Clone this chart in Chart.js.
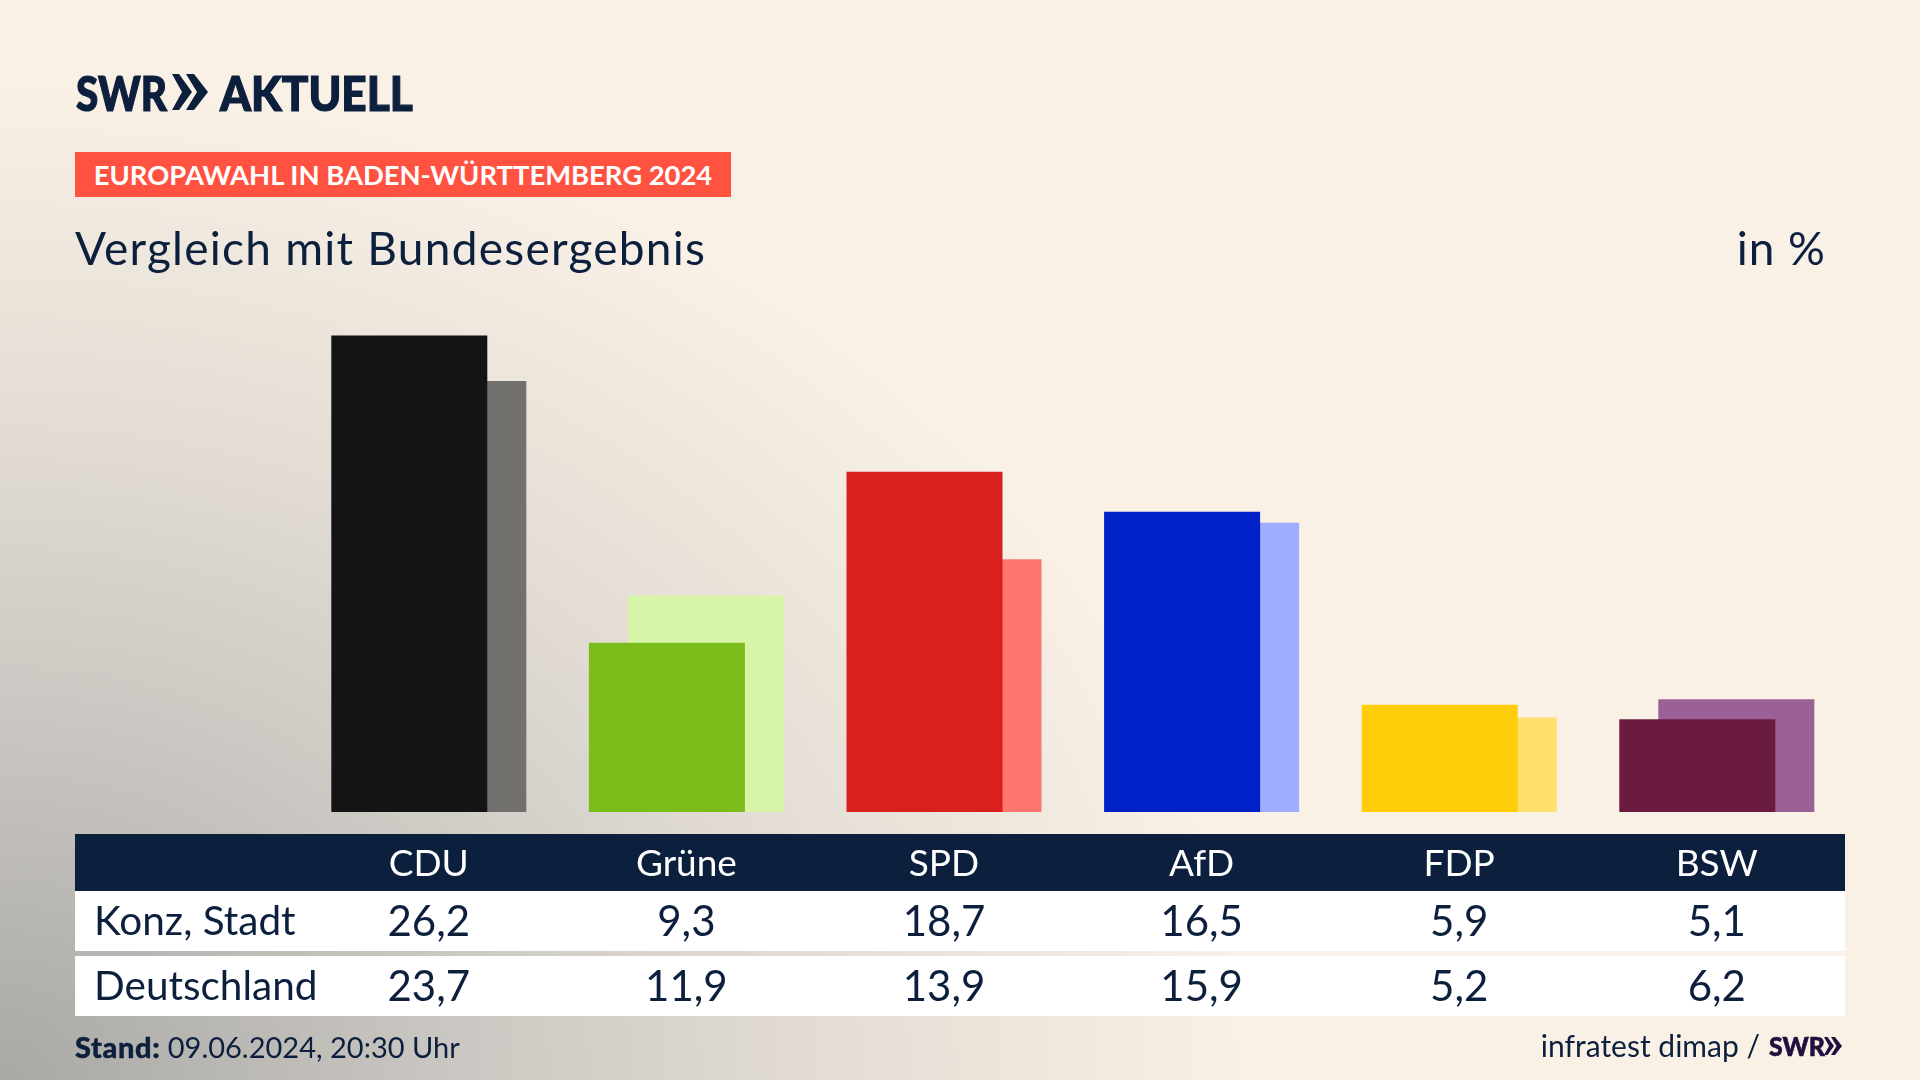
<!DOCTYPE html>
<html lang="de">
<head>
<meta charset="utf-8">
<title>Vergleich mit Bundesergebnis</title>
<script src="https://cdn.jsdelivr.net/npm/chart.js@4"></script>
<style>
  html, body { margin: 0; padding: 0; }
  body {
    width: 1920px; height: 1080px; overflow: hidden; position: relative;
    font-family: Lato, sans-serif; color: #0c1f3d;
    background:
      radial-gradient(ellipse 1250px 1000px at 0% 100%, #a9a8a5 0%, #c9c6c1 35%, #e2dcd4 65%, rgba(249,241,230,0) 100%),
      #f9f1e6;
  }
  .abs { position: absolute; white-space: nowrap; }
  #chart { position: absolute; left: 0; top: 0; }
  .logo { top: 66px; font-size: 47px; font-weight: 900; line-height: 54px; transform-origin: left center; -webkit-text-stroke: 1.2px #0c1f3d; }
  .tag { left: 75px; top: 152px; width: 656px; height: 45px; background: #ff5240; color: #fff;
         font-size: 27.4px; font-weight: 700; line-height: 46px; text-align: center; }
  .title { left: 75px; top: 220px; font-size: 46px; line-height: 56px; letter-spacing: 1.25px; }
  .unit { right: 94px; top: 220px; font-size: 46px; line-height: 56px; letter-spacing: 1px; }
  .band { left: 75px; width: 1770px; }
  .cell { font-size: 42px; line-height: 60px; transform: translateX(-50%); }
  .rowname { left: 94px; font-size: 40.5px; line-height: 60px; }
  .stand { left: 75px; top: 1029px; font-size: 29px; line-height: 36px; }
  .stand b { font-weight: 900; letter-spacing: 0.6px; -webkit-text-stroke: 0.4px #0c1f3d; }
  .source { right: 160px; top: 1027px; font-size: 30px; line-height: 36px; }
  .swr-small { left: 1769px; top: 1028px; font-size: 27px; line-height: 36px; font-weight: 900; color: #20103f;
               -webkit-text-stroke: 0.6px #20103f; transform: scaleX(0.92); transform-origin: left center; }
</style>
</head>
<body>
<div class="abs band" style="top:834px;height:57px;background:#0c1f3d"></div>
<div class="abs band" style="top:891px;height:60px;background:#fff"></div>
<div class="abs band" style="top:956px;height:60px;background:#fff"></div>
<canvas id="chart" width="1920" height="1080"></canvas>

<div class="abs logo" style="left:76px;transform:scaleX(0.86)">SWR</div>
<svg class="abs" style="left:172px;top:74px" width="36" height="36" viewBox="0 0 36 36">
  <path d="M0 0 L7 0 L20 18 L7 36 L0 36 L10 18 Z M14 0 L22 0 L36 18 L22 36 L14 36 L25 18 Z" fill="#0c1f3d"/>
</svg>
<div class="abs logo" style="left:220px;transform:scaleX(0.94)">AKTUELL</div>
<div class="abs tag">EUROPAWAHL IN BADEN-WÜRTTEMBERG 2024</div>
<div class="abs title">Vergleich mit Bundesergebnis</div>
<div class="abs unit">in %</div>
<div class="abs stand"><b>Stand:</b> 09.06.2024, 20:30 Uhr</div>
<div class="abs source">infratest dimap /</div>
<div class="abs swr-small">SWR</div>
<svg class="abs" style="left:1823px;top:1037px" width="20" height="18" viewBox="0 0 36 36">
  <path d="M0 0 L7 0 L20 18 L7 36 L0 36 L10 18 Z M14 0 L22 0 L36 18 L22 36 L14 36 L25 18 Z" fill="#20103f"/>
</svg>

<script>
const parties = ['CDU', 'Grüne', 'SPD', 'AfD', 'FDP', 'BSW'];
const konzLabel = 'Konz, Stadt';
const deutschlandLabel = 'Deutschland';
const konzValues = [26.2, 9.3, 18.7, 16.5, 5.9, 5.1];
const deutschlandValues = [23.7, 11.9, 13.9, 15.9, 5.2, 6.2];
const konzColors = ['#141414', '#7abd1a', '#d9201f', '#0020c8', '#ffcd0a', '#6b1a40'];
const deutschlandColors = ['#72716e', '#d7f5a9', '#ff7570', '#9eadff', '#ffe06b', '#9b6096'];

const formatValue = v => v.toFixed(1).replace('.', ',');

// first dataset is painted on top, so Konz sits in front of the Germany bar
const chart = new Chart(document.getElementById('chart').getContext('2d'), {
    type: 'bar',
    data: {
        labels: parties,
        datasets: [
            { label: konzLabel, data: konzValues, backgroundColor: konzColors },
            { label: deutschlandLabel, data: deutschlandValues, backgroundColor: deutschlandColors }
        ]
    },
    options: {
        responsive: false,
        animation: false,
        // two bars overlap: slots are 39px apart, each bar is 4 slots wide
        categoryPercentage: 0.3028,
        barPercentage: 4,
        layout: { padding: { left: 300, right: 74.4, top: 266.3, bottom: 0 } },
        plugins: { legend: { display: false }, tooltip: { enabled: false } },
        scales: {
            x: {
                grid: { display: false },
                border: { display: false },
                ticks: { color: '#ffffff', font: { family: 'Lato', size: 37 }, padding: 21.5, maxRotation: 0 },
                afterFit: scale => { scale.height = 268; }
            },
            y: { display: false, min: 0, max: 30 }
        }
    }
});

// value rows under the chart, lined up with the category axis
function addRow(name, values, top) {
    const label = document.createElement('div');
    label.className = 'abs rowname';
    label.style.top = top + 'px';
    label.textContent = name;
    document.body.appendChild(label);
    values.forEach((v, i) => {
        const cell = document.createElement('div');
        cell.className = 'abs cell';
        cell.style.top = top + 'px';
        cell.style.left = chart.scales.x.getPixelForValue(i) + 'px';
        cell.textContent = formatValue(v);
        document.body.appendChild(cell);
    });
}
addRow(konzLabel, konzValues, 890);
addRow(deutschlandLabel, deutschlandValues, 955);
</script>
</body>
</html>
